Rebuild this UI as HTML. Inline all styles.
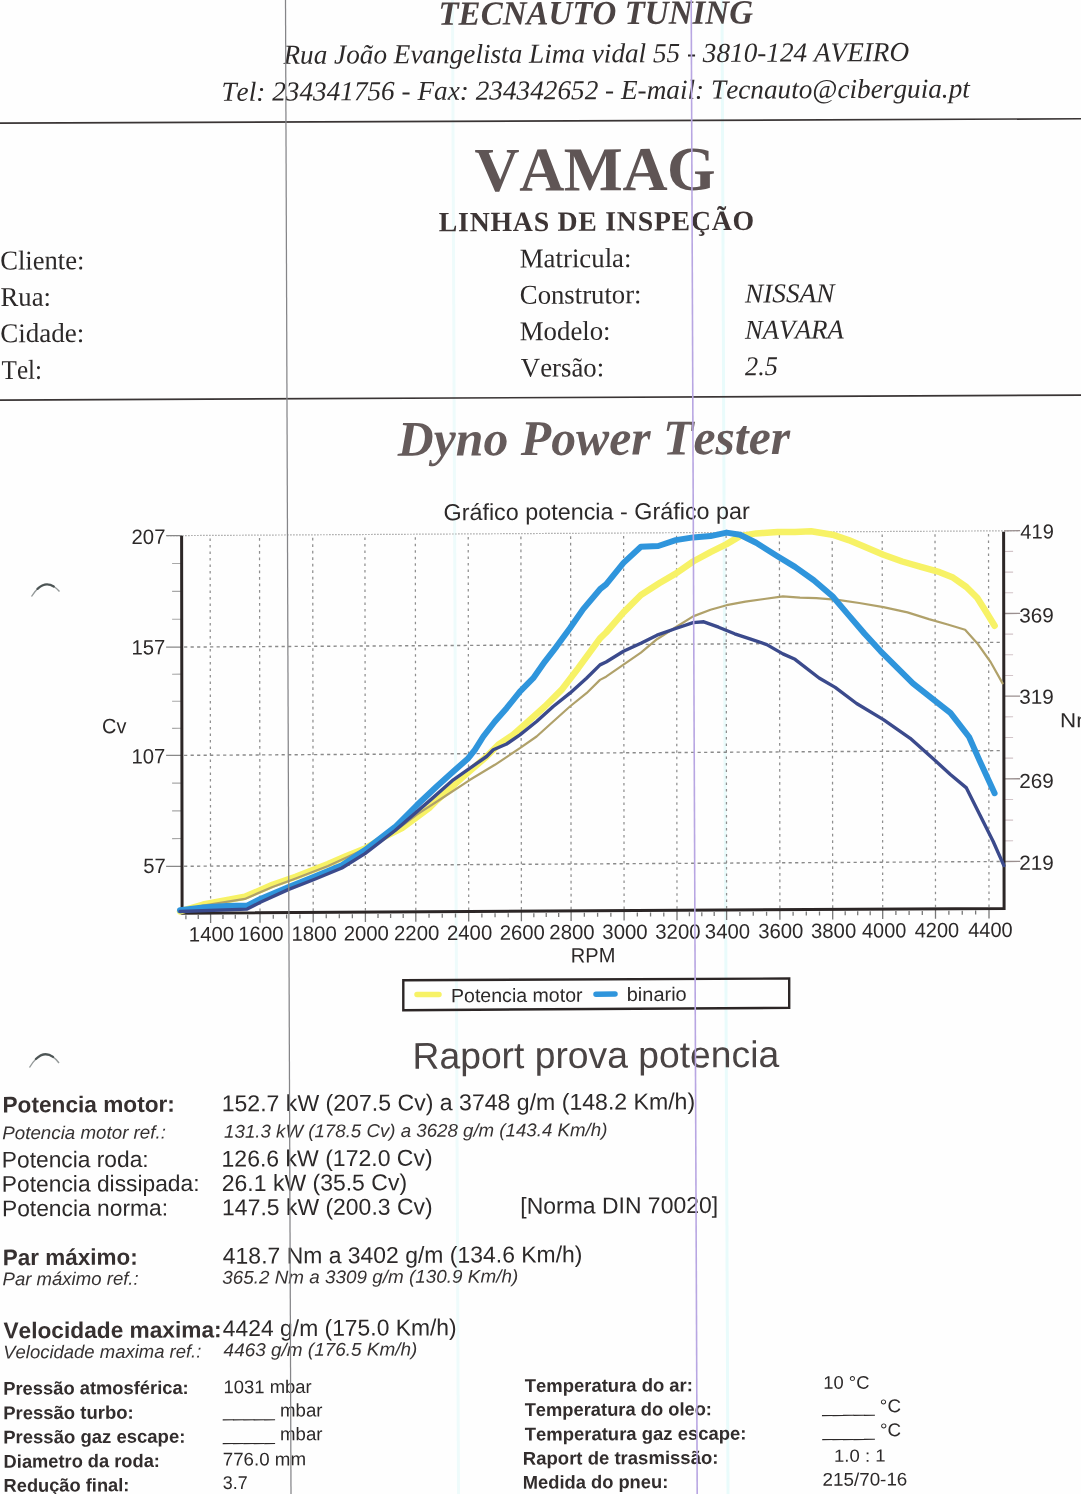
<!DOCTYPE html>
<html><head><meta charset="utf-8"><title>Dyno Power Tester</title>
<style>html,body{margin:0;padding:0;background:#fefefe;}svg{display:block;font-kerning:none;text-rendering:geometricPrecision;filter:blur(0.35px);}</style>
</head><body>
<svg width="1081" height="1494" viewBox="0 0 1081 1494">
<rect width="1081" height="1494" fill="#fefefe"/>
<path d="M722 0L728 1494" stroke="#e9fbfb" stroke-width="3"/><path d="M452.5 0L458.5 1494" stroke="#eefbfb" stroke-width="3"/>
<path d="M-5 123.20L1086 118.73" stroke="#3a3535" stroke-width="1.7"/><path d="M-5 400.16L1086 395.04" stroke="#3a3535" stroke-width="1.7"/>
<path d="M210.12 538.41L210.60 912.01M259.52 538.12L260.00 911.72M312.72 537.82L313.20 911.42M364.92 537.51L365.40 911.11M415.32 537.22L415.80 910.82M468.21 536.91L468.70 910.51M520.91 536.61L521.40 910.21M570.61 536.32L571.10 909.92M623.61 536.01L624.10 909.61M676.51 535.71L677.00 909.31M726.11 535.42L726.60 909.02M779.41 535.11L779.90 908.71M832.21 534.80L832.70 908.40M882.21 534.51L882.70 908.11M935.01 534.21L935.50 907.81M988.51 533.90L989.00 907.50" stroke="#8e8e8e" stroke-width="1.25" stroke-dasharray="2.6 3.9" fill="none"/>
<path d="M184.10 647.06L1003.10 642.31M184.10 755.36L1003.10 750.61M184.10 866.26L1003.10 861.51" stroke="#8a8a8a" stroke-width="1.4" stroke-dasharray="3.2 3.3" fill="none"/>
<path d="M167.10 535.66L1019.10 530.72" stroke="#aaa" stroke-width="1.2" stroke-dasharray="1.6 1.4" fill="none"/>
<path d="M166.10 535.67L182.10 535.58M166.10 647.17L182.10 647.08M166.10 755.47L182.10 755.38M166.10 866.37L182.10 866.28" stroke="#888" stroke-width="1.3" fill="none"/>
<path d="M172.10 563.51L182.10 563.45M172.10 591.38L182.10 591.33M172.10 619.26L182.10 619.20M172.10 674.21L182.10 674.15M172.10 701.28L182.10 701.23M172.10 728.36L182.10 728.30M172.10 783.16L182.10 783.10M172.10 810.88L182.10 810.83M172.10 838.61L182.10 838.55" stroke="#a8a8a8" stroke-width="1.1" fill="none"/>
<path d="M1004.10 530.81L1020.10 530.72M1004.10 613.48L1020.10 613.39M1004.10 696.16L1020.10 696.07M1004.10 778.83L1020.10 778.74M1004.10 861.51L1020.10 861.42" stroke="#9a8f8f" stroke-width="1.3" fill="none"/>
<path d="M1004.10 551.48L1013.10 551.42M1004.10 572.15L1013.10 572.09M1004.10 592.81L1013.10 592.76M1004.10 634.15L1013.10 634.10M1004.10 654.82L1013.10 654.77M1004.10 675.49L1013.10 675.44M1004.10 716.83L1013.10 716.77M1004.10 737.50L1013.10 737.44M1004.10 758.16L1013.10 758.11M1004.10 799.50L1013.10 799.45M1004.10 820.17L1013.10 820.12M1004.10 840.84L1013.10 840.79" stroke="#d2c4c8" stroke-width="1.1" fill="none"/>
<path d="M210.60 913.01L210.62 923.01M260.00 912.72L260.02 922.72M313.20 912.42L313.22 922.42M365.40 912.11L365.42 922.11M415.80 911.82L415.82 921.82M468.70 911.51L468.71 921.51M521.40 911.21L521.41 921.21M571.10 910.92L571.11 920.92M624.10 910.61L624.11 920.61M677.00 910.31L677.01 920.31M726.60 910.02L726.61 920.02M779.90 909.71L779.91 919.71M832.70 909.40L832.71 919.40M882.70 909.11L882.71 919.11M935.50 908.81L935.51 918.81M989.00 908.50L989.01 918.50M222.96 914.94L222.96 918.94M235.31 914.87L235.31 918.87M247.66 914.80L247.66 918.80M273.31 914.65L273.31 918.65M286.61 914.57L286.61 918.57M299.91 914.49L299.91 918.49M326.26 914.34L326.26 918.34M339.31 914.26L339.31 918.26M352.36 914.19L352.36 918.19M378.01 914.04L378.01 918.04M390.61 913.97L390.61 917.97M403.21 913.89L403.21 917.89M429.03 913.74L429.04 917.74M442.25 913.67L442.26 917.67M455.48 913.59L455.48 917.59M481.88 913.44L481.88 917.44M495.05 913.36L495.06 917.36M508.23 913.28L508.23 917.28M533.83 913.14L533.83 917.14M546.25 913.06L546.26 917.06M558.68 912.99L558.68 916.99M584.35 912.84L584.36 916.84M597.60 912.77L597.61 916.77M610.85 912.69L610.86 916.69M637.33 912.54L637.33 916.54M650.55 912.46L650.56 916.46M663.78 912.38L663.78 916.38M689.40 912.23L689.41 916.23M701.80 912.16L701.81 916.16M714.20 912.09L714.21 916.09M739.93 911.94L739.93 915.94M753.25 911.86L753.26 915.86M766.58 911.79L766.58 915.79M793.10 911.63L793.11 915.63M806.30 911.56L806.31 915.56M819.50 911.48L819.51 915.48M845.20 911.33L845.21 915.33M857.70 911.26L857.71 915.26M870.20 911.18L870.21 915.18M895.90 911.04L895.91 915.04M909.10 910.96L909.11 914.96M922.30 910.88L922.31 914.88M948.88 910.73L948.88 914.73M962.25 910.65L962.26 914.65M975.63 910.57L975.63 914.57M198.26 915.08L198.26 919.08M185.91 915.15L185.91 919.15" stroke="#777" stroke-width="1.3" fill="none"/>
<path d="M181.61 536.08L182.10 913.18L1004.10 908.41L1003.61 531.81" stroke="#2c2626" stroke-width="3" fill="none" stroke-linejoin="miter"/>
<polyline points="180.0,911.4 203.1,904.5 244.8,896.8 272.5,884.8 295.6,876.7 328.0,864.0 346.5,855.9 365.0,848.5 385.0,836.5 402.0,828.2 430.0,807.3 436.7,800.5 461.6,778.1 486.6,756.5 498.3,744.8 513.2,734.8 528.2,721.5 544.9,706.5 561.5,689.9 578.2,668.2 600.0,638.3 606.1,632.5 623.5,612.4 640.9,595.0 659.6,583.0 675.7,573.6 693.1,561.5 710.5,552.1 726.6,544.1 740.0,536.1 756.1,533.4 777.5,532.1 795.0,532.1 811.1,531.3 832.5,534.7 848.6,540.1 864.6,546.8 883.4,554.8 902.2,561.5 920.9,566.9 939.7,572.2 953.0,577.6 966.4,587.0 977.2,597.7 986.5,612.4 994.6,625.8" stroke="#f7f266" stroke-width="6.5" fill="none" stroke-linejoin="round" stroke-linecap="round"/>
<polyline points="180.0,911.5 203.1,905.6 244.8,898.9 272.5,887.0 295.6,878.5 328.0,866.0 346.5,857.5 365.0,848.9 390.0,834.8 416.8,814.7 441.6,798.5 470.0,779.8 494.9,764.8 519.9,748.2 536.6,736.5 553.2,721.5 569.9,706.5 586.5,693.2 600.0,679.9 606.1,676.7 623.5,664.7 640.9,652.6 657.0,639.2 675.7,627.2 693.1,616.4 710.5,609.7 726.6,605.2 745.4,601.7 764.1,599.0 782.9,596.3 800.0,597.7 816.4,598.2 837.9,599.8 859.3,603.0 883.4,607.1 907.5,612.4 928.9,619.1 947.7,624.5 965.1,629.8 977.2,643.2 990.6,662.0 1002.6,683.4" stroke="#b0a16a" stroke-width="2.2" fill="none" stroke-linejoin="round" stroke-linecap="round"/>
<polyline points="180.0,910.3 203.1,907.5 226.3,906.1 247.1,905.6 260.9,898.7 288.7,887.1 314.1,876.7 341.9,865.2 365.0,850.1 395.1,827.0 416.8,805.3 436.7,786.5 453.3,771.5 468.3,758.2 474.9,749.8 483.3,736.5 494.9,721.5 506.6,708.2 519.9,691.6 533.2,678.2 544.9,661.6 556.5,646.6 569.9,628.3 583.2,609.1 600.0,589.2 606.1,584.3 623.5,562.9 640.9,546.8 658.3,546.0 675.7,540.1 693.1,537.4 710.5,536.1 726.6,532.6 740.0,534.7 756.1,542.8 777.5,556.2 795.0,566.9 813.8,580.3 832.5,596.3 848.6,615.1 864.6,633.8 880.7,651.3 896.8,667.3 912.9,683.4 931.6,698.1 950.4,712.9 969.1,737.0 979.8,761.1 994.6,793.2" stroke="#2f95dc" stroke-width="6" fill="none" stroke-linejoin="round" stroke-linecap="round"/>
<polyline points="180.0,911.5 247.1,909.1 260.9,902.0 288.7,889.4 314.1,879.5 341.9,868.0 365.0,853.6 395.1,830.5 430.0,800.4 453.3,779.8 470.0,768.1 486.6,756.5 493.3,749.8 506.6,744.0 519.9,734.8 536.6,721.5 553.2,706.5 569.9,693.2 586.5,678.2 600.0,664.9 606.1,662.0 623.5,651.3 640.9,643.2 657.0,635.2 675.7,628.5 693.1,622.6 703.8,621.8 718.6,627.2 734.7,633.8 750.7,639.2 766.8,644.6 782.9,653.9 795.0,659.3 819.1,678.0 835.2,687.4 856.6,703.5 883.4,719.6 910.2,738.3 934.3,759.8 950.4,774.5 966.4,787.9 979.8,814.7 993.2,841.5 1003.9,865.6" stroke="#3b4a8c" stroke-width="3.4" fill="none" stroke-linejoin="round" stroke-linecap="round"/>
<path d="M403.3 980.2L789.2 978.5L789.2 1007.8L403.3 1010.2Z" fill="none" stroke="#2c2626" stroke-width="2.4"/>
<path d="M417 994.6L439 994.5" stroke="#f7f266" stroke-width="5.5" stroke-linecap="round"/>
<path d="M596 994.2L615 994.1" stroke="#2f95dc" stroke-width="5.5" stroke-linecap="round"/>
<g transform="matrix(1 -0.0045 0.0013 1 -0.971 2.432)">
<text id="h1" x="439.4" y="24.4" font-family="'Liberation Serif', serif" font-size="33.8" font-weight="bold" font-style="italic" fill="#4b4343" textLength="314.6" lengthAdjust="spacingAndGlyphs">TECNAUTO TUNING</text>
<text id="h2" x="284.4" y="62.7" font-family="'Liberation Serif', serif" font-size="27.4" font-style="italic" fill="#2c2929" textLength="625.6" lengthAdjust="spacingAndGlyphs">Rua João Evangelista Lima vidal 55 - 3810-124 AVEIRO</text>
<text id="h3" x="222.3" y="99.4" font-family="'Liberation Serif', serif" font-size="27.4" font-style="italic" fill="#2c2929" textLength="748.4" lengthAdjust="spacingAndGlyphs">Tel: 234341756 - Fax: 234342652 - E-mail: Tecnauto@ciberguia.pt</text>
<text id="vamag" x="475.3" y="190.7" font-family="'Liberation Serif', serif" font-size="62.5" font-weight="bold" fill="#5f5555" textLength="241.1" lengthAdjust="spacing">VAMAG</text>
<text id="linhas" x="439.5" y="230.9" font-family="'Liberation Serif', serif" font-size="27.8" font-weight="bold" fill="#3d3535" textLength="315.3" lengthAdjust="spacing">LINHAS DE INSPEÇÃO</text>
<text id="cli" x="0.8" y="267.1" font-family="'Liberation Serif', serif" font-size="27.2" fill="#2c2929" textLength="84.2" lengthAdjust="spacingAndGlyphs">Cliente:</text>
<text id="rua" x="1.1" y="303.5" font-family="'Liberation Serif', serif" font-size="27.2" fill="#2c2929" textLength="50.5" lengthAdjust="spacingAndGlyphs">Rua:</text>
<text id="cid" x="0.7" y="339.8" font-family="'Liberation Serif', serif" font-size="27.2" fill="#2c2929" textLength="84.2" lengthAdjust="spacingAndGlyphs">Cidade:</text>
<text id="tel" x="2.0" y="376.5" font-family="'Liberation Serif', serif" font-size="27.2" fill="#2c2929" textLength="40.5" lengthAdjust="spacingAndGlyphs">Tel:</text>
<text id="mat" x="520.4" y="267.4" font-family="'Liberation Serif', serif" font-size="27.2" fill="#2c2929" textLength="111.7" lengthAdjust="spacingAndGlyphs">Matricula:</text>
<text id="con" x="520.4" y="303.7" font-family="'Liberation Serif', serif" font-size="27.2" fill="#2c2929" textLength="121.7" lengthAdjust="spacingAndGlyphs">Construtor:</text>
<text id="mod" x="520.3" y="340.1" font-family="'Liberation Serif', serif" font-size="27.2" fill="#2c2929" textLength="90.8" lengthAdjust="spacingAndGlyphs">Modelo:</text>
<text id="ver" x="521.3" y="376.6" font-family="'Liberation Serif', serif" font-size="27.2" fill="#2c2929" textLength="83.3" lengthAdjust="spacingAndGlyphs">Versão:</text>
<text id="nis" x="745.6" y="303.4" font-family="'Liberation Serif', serif" font-size="27.2" font-style="italic" fill="#2c2929" textLength="89.3" lengthAdjust="spacingAndGlyphs">NISSAN</text>
<text id="nav" x="745.5" y="339.7" font-family="'Liberation Serif', serif" font-size="27.2" font-style="italic" fill="#2c2929" textLength="98.8" lengthAdjust="spacingAndGlyphs">NAVARA</text>
<text id="v25" x="745.5" y="376.1" font-family="'Liberation Serif', serif" font-size="27.2" font-style="italic" fill="#2c2929" textLength="32.9" lengthAdjust="spacingAndGlyphs">2.5</text>
<text id="dyno" x="398.2" y="455.0" font-family="'Liberation Serif', serif" font-size="49.8" font-weight="bold" font-style="italic" fill="#655b5b" textLength="392.3" lengthAdjust="spacingAndGlyphs">Dyno Power Tester</text>
<text id="gtit" x="443.8" y="519.8" font-family="'Liberation Sans', sans-serif" font-size="23.2" fill="#2c2929" textLength="306.3" lengthAdjust="spacingAndGlyphs">Gráfico potencia - Gráfico par</text>
<text id="rap" x="412.1" y="1068.1" font-family="'Liberation Sans', sans-serif" font-size="37.2" fill="#4a4444" textLength="366.7" lengthAdjust="spacingAndGlyphs">Raport prova potencia</text>
<text id="pm" x="2.0" y="1110.1" font-family="'Liberation Sans', sans-serif" font-size="22.7" font-weight="bold" fill="#363030" textLength="172.4" lengthAdjust="spacingAndGlyphs">Potencia motor:</text>
<text id="pmr" x="1.8" y="1136.8" font-family="'Liberation Sans', sans-serif" font-size="18.4" font-style="italic" fill="#363232" textLength="163.6" lengthAdjust="spacingAndGlyphs">Potencia motor ref.:</text>
<text id="pr" x="1.3" y="1165.1" font-family="'Liberation Sans', sans-serif" font-size="22.6" fill="#2c2929" textLength="146.8" lengthAdjust="spacingAndGlyphs">Potencia roda:</text>
<text id="pd" x="1.3" y="1189.4" font-family="'Liberation Sans', sans-serif" font-size="22.6" fill="#2c2929" textLength="197.7" lengthAdjust="spacingAndGlyphs">Potencia dissipada:</text>
<text id="pn" x="1.3" y="1213.8" font-family="'Liberation Sans', sans-serif" font-size="22.6" fill="#2c2929" textLength="166.2" lengthAdjust="spacingAndGlyphs">Potencia norma:</text>
<text id="pmv" x="221.2" y="1109.9" font-family="'Liberation Sans', sans-serif" font-size="23.0" fill="#2c2929" textLength="473.5" lengthAdjust="spacingAndGlyphs">152.7 kW (207.5 Cv) a 3748 g/m (148.2 Km/h)</text>
<text id="pmrv" x="223.6" y="1136.3" font-family="'Liberation Sans', sans-serif" font-size="18.4" font-style="italic" fill="#363232" textLength="383.3" lengthAdjust="spacingAndGlyphs">131.3 kW (178.5 Cv) a 3628 g/m (143.4 Km/h)</text>
<text id="prv" x="221.0" y="1165.2" font-family="'Liberation Sans', sans-serif" font-size="23.0" fill="#2c2929" textLength="211.1" lengthAdjust="spacingAndGlyphs">126.6 kW (172.0 Cv)</text>
<text id="pdv" x="221.2" y="1189.6" font-family="'Liberation Sans', sans-serif" font-size="23.0" fill="#2c2929" textLength="185.3" lengthAdjust="spacingAndGlyphs">26.1 kW (35.5 Cv)</text>
<text id="pnv" x="221.5" y="1213.9" font-family="'Liberation Sans', sans-serif" font-size="23.0" fill="#2c2929" textLength="210.5" lengthAdjust="spacingAndGlyphs">147.5 kW (200.3 Cv)</text>
<text id="din" x="519.7" y="1213.7" font-family="'Liberation Sans', sans-serif" font-size="23.0" fill="#2c2929" textLength="197.8" lengthAdjust="spacingAndGlyphs">[Norma DIN 70020]</text>
<text id="par" x="2.2" y="1262.8" font-family="'Liberation Sans', sans-serif" font-size="22.7" font-weight="bold" fill="#363030" textLength="134.8" lengthAdjust="spacingAndGlyphs">Par máximo:</text>
<text id="parv" x="222.2" y="1262.3" font-family="'Liberation Sans', sans-serif" font-size="23.0" fill="#2c2929" textLength="359.6" lengthAdjust="spacingAndGlyphs">418.7 Nm a 3402 g/m (134.6 Km/h)</text>
<text id="parr" x="1.8" y="1282.9" font-family="'Liberation Sans', sans-serif" font-size="18.4" font-style="italic" fill="#363232" textLength="136.2" lengthAdjust="spacingAndGlyphs">Par máximo ref.:</text>
<text id="parrv" x="221.5" y="1282.3" font-family="'Liberation Sans', sans-serif" font-size="18.4" font-style="italic" fill="#363232" textLength="296.0" lengthAdjust="spacingAndGlyphs">365.2 Nm a 3309 g/m (130.9 Km/h)</text>
<text id="vel" x="2.7" y="1335.9" font-family="'Liberation Sans', sans-serif" font-size="22.7" font-weight="bold" fill="#363030" textLength="218.2" lengthAdjust="spacingAndGlyphs">Velocidade maxima:</text>
<text id="velv" x="222.1" y="1334.8" font-family="'Liberation Sans', sans-serif" font-size="23.0" fill="#2c2929" textLength="233.8" lengthAdjust="spacingAndGlyphs">4424 g/m (175.0 Km/h)</text>
<text id="velr" x="2.4" y="1356.0" font-family="'Liberation Sans', sans-serif" font-size="18.4" font-style="italic" fill="#363232" textLength="198.2" lengthAdjust="spacingAndGlyphs">Velocidade maxima ref.:</text>
<text id="velrv" x="222.8" y="1354.8" font-family="'Liberation Sans', sans-serif" font-size="18.4" font-style="italic" fill="#363232" textLength="193.8" lengthAdjust="spacingAndGlyphs">4463 g/m (176.5 Km/h)</text>
<text id="lt0" x="2.4" y="1392.3" font-family="'Liberation Sans', sans-serif" font-size="18.4" font-weight="bold" fill="#322d2d" textLength="185.5" lengthAdjust="spacingAndGlyphs">Pressão atmosférica:</text>
<text id="lt1" x="2.3" y="1416.8" font-family="'Liberation Sans', sans-serif" font-size="18.4" font-weight="bold" fill="#322d2d" textLength="130.5" lengthAdjust="spacingAndGlyphs">Pressão turbo:</text>
<text id="lt2" x="2.3" y="1441.0" font-family="'Liberation Sans', sans-serif" font-size="18.4" font-weight="bold" fill="#322d2d" textLength="182.2" lengthAdjust="spacingAndGlyphs">Pressão gaz escape:</text>
<text id="lt3" x="2.7" y="1465.3" font-family="'Liberation Sans', sans-serif" font-size="18.4" font-weight="bold" fill="#322d2d" textLength="156.3" lengthAdjust="spacingAndGlyphs">Diametro da roda:</text>
<text id="lt4" x="2.6" y="1489.4" font-family="'Liberation Sans', sans-serif" font-size="18.4" font-weight="bold" fill="#322d2d" textLength="125.8" lengthAdjust="spacingAndGlyphs">Redução final:</text>
<text id="lv0" x="222.7" y="1391.9" font-family="'Liberation Sans', sans-serif" font-size="18.4" fill="#2c2929" textLength="88.1" lengthAdjust="spacingAndGlyphs">1031 mbar</text>
<text id="lv1" x="222.1" y="1415.4" font-family="'Liberation Sans', sans-serif" font-size="18.4" fill="#2c2929" textLength="99.5" lengthAdjust="spacingAndGlyphs">_____ mbar</text>
<text id="lv2" x="222.1" y="1439.2" font-family="'Liberation Sans', sans-serif" font-size="18.4" fill="#2c2929" textLength="99.5" lengthAdjust="spacingAndGlyphs">_____ mbar</text>
<text id="lv3" x="221.8" y="1464.2" font-family="'Liberation Sans', sans-serif" font-size="18.4" fill="#2c2929" textLength="83.3" lengthAdjust="spacingAndGlyphs">776.0 mm</text>
<text id="lv4" x="221.9" y="1487.6" font-family="'Liberation Sans', sans-serif" font-size="18.4" fill="#2c2929" textLength="24.9" lengthAdjust="spacingAndGlyphs">3.7</text>
<text id="rt0" x="523.9" y="1392.0" font-family="'Liberation Sans', sans-serif" font-size="18.4" font-weight="bold" fill="#322d2d" textLength="168.2" lengthAdjust="spacingAndGlyphs">Temperatura do ar:</text>
<text id="rt1" x="523.8" y="1416.0" font-family="'Liberation Sans', sans-serif" font-size="18.4" font-weight="bold" fill="#322d2d" textLength="187.3" lengthAdjust="spacingAndGlyphs">Temperatura do oleo:</text>
<text id="rt2" x="523.8" y="1440.5" font-family="'Liberation Sans', sans-serif" font-size="18.4" font-weight="bold" fill="#322d2d" textLength="221.8" lengthAdjust="spacingAndGlyphs">Temperatura gaz escape:</text>
<text id="rt3" x="521.9" y="1464.6" font-family="'Liberation Sans', sans-serif" font-size="18.4" font-weight="bold" fill="#322d2d" textLength="195.6" lengthAdjust="spacingAndGlyphs">Raport de trasmissão:</text>
<text id="rt4" x="521.8" y="1488.6" font-family="'Liberation Sans', sans-serif" font-size="18.4" font-weight="bold" fill="#322d2d" textLength="145.5" lengthAdjust="spacingAndGlyphs">Medida do pneu:</text>
<text id="rv0" x="822.5" y="1390.1" font-family="'Liberation Sans', sans-serif" font-size="18.2" fill="#2c2929" textLength="46.1" lengthAdjust="spacingAndGlyphs">10 °C</text>
<text id="rv1" x="821.5" y="1413.7" font-family="'Liberation Sans', sans-serif" font-size="18.4" fill="#2c2929" textLength="78.6" lengthAdjust="spacingAndGlyphs">_____ °C</text>
<text id="rv2" x="821.5" y="1437.8" font-family="'Liberation Sans', sans-serif" font-size="18.4" fill="#2c2929" textLength="78.6" lengthAdjust="spacingAndGlyphs">_____ °C</text>
<text id="rv3" x="833.1" y="1463.1" font-family="'Liberation Sans', sans-serif" font-size="17.5" fill="#2c2929" textLength="51.6" lengthAdjust="spacingAndGlyphs">1.0 : 1</text>
<text id="rv4" x="821.5" y="1487.1" font-family="'Liberation Sans', sans-serif" font-size="18.4" fill="#2c2929" textLength="84.9" lengthAdjust="spacingAndGlyphs">215/70-16</text>
<text id="yl207" x="131.8" y="542.1" font-family="'Liberation Sans', sans-serif" font-size="20.8" fill="#2c2929" textLength="33.9" lengthAdjust="spacingAndGlyphs">207</text>
<text id="yl157" x="131.6" y="652.6" font-family="'Liberation Sans', sans-serif" font-size="20.8" fill="#2c2929" textLength="33.9" lengthAdjust="spacingAndGlyphs">157</text>
<text id="yl107" x="131.5" y="761.6" font-family="'Liberation Sans', sans-serif" font-size="20.8" fill="#2c2929" textLength="33.9" lengthAdjust="spacingAndGlyphs">107</text>
<text id="yl57" x="143.1" y="871.2" font-family="'Liberation Sans', sans-serif" font-size="20.8" fill="#2c2929" textLength="22.6" lengthAdjust="spacingAndGlyphs">57</text>
<text id="cv" x="102.1" y="731.3" font-family="'Liberation Sans', sans-serif" font-size="20.8" fill="#2c2929" textLength="24.3" lengthAdjust="spacingAndGlyphs">Cv</text>
<text id="yr419" x="1020.6" y="540.8" font-family="'Liberation Sans', sans-serif" font-size="20.3" fill="#2c2929" textLength="33.5" lengthAdjust="spacingAndGlyphs">419</text>
<text id="yr369" x="1019.4" y="624.6" font-family="'Liberation Sans', sans-serif" font-size="20.3" fill="#2c2929" textLength="34.6" lengthAdjust="spacingAndGlyphs">369</text>
<text id="yr319" x="1019.3" y="706.0" font-family="'Liberation Sans', sans-serif" font-size="20.3" fill="#2c2929" textLength="34.6" lengthAdjust="spacingAndGlyphs">319</text>
<text id="yr269" x="1019.2" y="790.1" font-family="'Liberation Sans', sans-serif" font-size="20.3" fill="#2c2929" textLength="34.6" lengthAdjust="spacingAndGlyphs">269</text>
<text id="yr219" x="1019.1" y="872.0" font-family="'Liberation Sans', sans-serif" font-size="20.3" fill="#2c2929" textLength="34.6" lengthAdjust="spacingAndGlyphs">219</text>
<text id="nm" x="1060.0" y="729.7" font-family="'Liberation Sans', sans-serif" font-size="20.3" fill="#2c2929" textLength="34.8" lengthAdjust="spacingAndGlyphs">Nm</text>
<text id="xl1400" x="188.6" y="939.8" font-family="'Liberation Sans', sans-serif" font-size="20.8" fill="#2c2929" textLength="45.3" lengthAdjust="spacingAndGlyphs">1400</text>
<text id="xl1600" x="238.0" y="939.7" font-family="'Liberation Sans', sans-serif" font-size="20.8" fill="#2c2929" textLength="45.3" lengthAdjust="spacingAndGlyphs">1600</text>
<text id="xl1800" x="291.2" y="939.7" font-family="'Liberation Sans', sans-serif" font-size="20.8" fill="#2c2929" textLength="45.3" lengthAdjust="spacingAndGlyphs">1800</text>
<text id="xl2000" x="343.4" y="939.6" font-family="'Liberation Sans', sans-serif" font-size="20.8" fill="#2c2929" textLength="45.3" lengthAdjust="spacingAndGlyphs">2000</text>
<text id="xl2200" x="393.8" y="939.6" font-family="'Liberation Sans', sans-serif" font-size="20.8" fill="#2c2929" textLength="45.3" lengthAdjust="spacingAndGlyphs">2200</text>
<text id="xl2400" x="446.7" y="939.5" font-family="'Liberation Sans', sans-serif" font-size="20.8" fill="#2c2929" textLength="45.3" lengthAdjust="spacingAndGlyphs">2400</text>
<text id="xl2600" x="499.4" y="939.5" font-family="'Liberation Sans', sans-serif" font-size="20.8" fill="#2c2929" textLength="45.3" lengthAdjust="spacingAndGlyphs">2600</text>
<text id="xl2800" x="549.1" y="939.4" font-family="'Liberation Sans', sans-serif" font-size="20.8" fill="#2c2929" textLength="45.3" lengthAdjust="spacingAndGlyphs">2800</text>
<text id="xl3000" x="602.1" y="939.4" font-family="'Liberation Sans', sans-serif" font-size="20.8" fill="#2c2929" textLength="45.3" lengthAdjust="spacingAndGlyphs">3000</text>
<text id="xl3200" x="655.0" y="939.3" font-family="'Liberation Sans', sans-serif" font-size="20.8" fill="#2c2929" textLength="45.3" lengthAdjust="spacingAndGlyphs">3200</text>
<text id="xl3400" x="704.6" y="939.3" font-family="'Liberation Sans', sans-serif" font-size="20.8" fill="#2c2929" textLength="45.3" lengthAdjust="spacingAndGlyphs">3400</text>
<text id="xl3600" x="757.9" y="939.2" font-family="'Liberation Sans', sans-serif" font-size="20.8" fill="#2c2929" textLength="45.3" lengthAdjust="spacingAndGlyphs">3600</text>
<text id="xl3800" x="810.7" y="939.2" font-family="'Liberation Sans', sans-serif" font-size="20.8" fill="#2c2929" textLength="45.3" lengthAdjust="spacingAndGlyphs">3800</text>
<text id="xl4000" x="861.7" y="939.1" font-family="'Liberation Sans', sans-serif" font-size="20.8" fill="#2c2929" textLength="44.4" lengthAdjust="spacingAndGlyphs">4000</text>
<text id="xl4200" x="914.5" y="939.1" font-family="'Liberation Sans', sans-serif" font-size="20.8" fill="#2c2929" textLength="44.4" lengthAdjust="spacingAndGlyphs">4200</text>
<text id="xl4400" x="968.0" y="939.0" font-family="'Liberation Sans', sans-serif" font-size="20.8" fill="#2c2929" textLength="44.4" lengthAdjust="spacingAndGlyphs">4400</text>
<text id="rpm" x="570.6" y="962.6" font-family="'Liberation Sans', sans-serif" font-size="20.6" fill="#2c2929" textLength="44.5" lengthAdjust="spacingAndGlyphs">RPM</text>
<text id="leg1" x="450.7" y="1001.8" font-family="'Liberation Sans', sans-serif" font-size="19.3" fill="#2c2929" textLength="131.5" lengthAdjust="spacingAndGlyphs">Potencia motor</text>
<text id="leg2" x="626.4" y="1001.4" font-family="'Liberation Sans', sans-serif" font-size="19.3" fill="#2c2929" textLength="60.0" lengthAdjust="spacingAndGlyphs">binario</text>
</g>
<path d="M285.5 0L291.0 1494" stroke="#858588" stroke-width="1.25"/><path d="M691.2 0L697.2 1494" stroke="#b8a6e2" stroke-width="1.6"/>
<path d="M31.5 596.5Q45.0 575.0 59.5 591.5" stroke="#5a6262" stroke-width="1.4" fill="none" opacity="0.65"/><path d="M37.49 588.88Q45.45 581.26 53.74 586.42" stroke="#3e4646" stroke-width="2.3" fill="none" opacity="0.85" stroke-linecap="round"/><path d="M29.5 1067.5Q44.0 1043.5 59.0 1063.0" stroke="#5a6262" stroke-width="1.4" fill="none" opacity="0.65"/><path d="M35.90 1059.05Q44.38 1050.68 53.02 1056.94" stroke="#3e4646" stroke-width="2.3" fill="none" opacity="0.85" stroke-linecap="round"/>
</svg>
</body></html>
